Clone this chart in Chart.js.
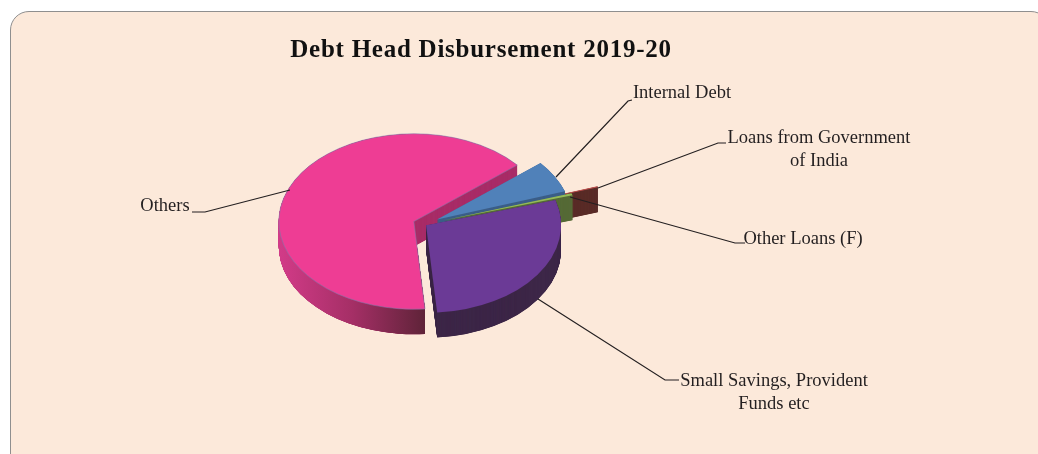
<!DOCTYPE html>
<html>
<head>
<meta charset="utf-8">
<title>Debt Head Disbursement 2019-20</title>
<script src="https://cdn.jsdelivr.net/npm/chart.js@4"></script>
<style>
  html, body { margin: 0; padding: 0; background: #fff; overflow: hidden; }
  #panel {
    position: absolute; left: 10px; top: 11px; width: 1040px; height: 470px;
    box-sizing: border-box; background: #fce9da; border: 1.5px solid #8f8f8f; border-radius: 19px;
  }
  #box { position: absolute; left: 0; top: 0; width: 962px; height: 454px; }
</style>
</head>
<body>
<div id="panel"></div>
<div id="box"><canvas id="debt"></canvas></div>
<script>
// values in percent
var categories = ['Internal Debt', 'Loans from Government of India', 'Other Loans (F)', 'Small Savings, Provident Funds etc', 'Others'];
var shares = [5.9, 0.2, 0.4, 28.3, 65.2];
var topColors = ['#5081b9', '#c0504d', '#94bb58', '#6b3a96', '#ee3d94'];
var wallColors = ['#3c5f88', '#5a2c28', '#566b37', '#3d2748', '#a92d68'];
var explode = [15, 48, 20, 2.5, 11];
var drawOrder = [4, 1, 0, 2, 3];

// label text lines, centre x, first baseline, then the leader line points
var labelLines = [
  { lines: ['Internal Debt'], x: 682, y: 98, leader: [[556, 177], [628, 101], [632, 100]] },
  { lines: ['Loans from Government', 'of India'], x: 819, y: 143, leader: [[598, 188], [718, 143], [726, 143]] },
  { lines: ['Other Loans (F)'], x: 803, y: 244, leader: [[570, 197], [735, 243], [745, 243]] },
  { lines: ['Small Savings, Provident', 'Funds etc'], x: 774, y: 386, leader: [[538, 299], [665, 380], [679, 380]] },
  { lines: ['Others'], x: 165, y: 211, leader: [[290, 190], [205, 212], [192, 212]] }
];

var squash = 0.65;
var depth = 25;
var pieShift = -57;
var textFont = '18.5px "Liberation Serif"';

function drawSlice(ctx, arc, i, fill, drop, rim) {
  var mid = (arc.startAngle + arc.endAngle) / 2;
  var e = explode[i];
  var s = Object.create(arc);
  s.options = Object.assign({}, arc.options, {
    offset: 0,
    backgroundColor: fill,
    borderColor: rim || fill,
    borderWidth: rim ? 1 : 0
  });
  ctx.save();
  ctx.translate(arc.x + pieShift + Math.cos(mid) * e, arc.y + Math.sin(mid) * e * squash + drop);
  ctx.scale(1, squash);
  ctx.translate(-arc.x, -arc.y);
  s.draw(ctx);
  ctx.restore();
}

var pie3d = {
  id: 'pie3d',
  beforeDraw: function (chart) {
    // title in the reference is set wider than the font
    chart.ctx.letterSpacing = '0.75px';
  },
  beforeDatasetDraw: function (chart) {
    var ctx = chart.ctx;
    var arcs = chart.getDatasetMeta(0).data;
    drawOrder.forEach(function (i) {
      var arc = arcs[i];
      var k;
      for (k = depth; k > 0; k -= 0.25) {
        drawSlice(ctx, arc, i, wallColors[i], k);
      }
      if (i === 4) {
        // outer wall of the big slice gets a dark shading to the right
        var mid = (arc.startAngle + arc.endAngle) / 2;
        var ax = arc.x + pieShift + Math.cos(mid) * explode[i];
        var ay = arc.y + Math.sin(mid) * explode[i] * squash;
        var grad = ctx.createLinearGradient(arc.x - arc.outerRadius, 0, arc.x + 12, 0);
        grad.addColorStop(0, '#d23b88');
        grad.addColorStop(0.5, '#a52f66');
        grad.addColorStop(1, '#5e2338');
        ctx.save();
        ctx.beginPath();
        ctx.rect(0, 0, ax, chart.height);
        ctx.rect(ax, ay + depth + 3, chart.width, chart.height);
        ctx.clip();
        for (k = depth; k > 0; k -= 0.25) {
          drawSlice(ctx, arc, i, grad, k);
        }
        ctx.restore();
      }
      drawSlice(ctx, arc, i, topColors[i], 0, i === 4 ? 'rgba(130,120,170,0.7)' : null);
    });
    return false;
  },
  afterDraw: function (chart) {
    var ctx = chart.ctx;
    ctx.save();
    ctx.letterSpacing = '0px';
    ctx.strokeStyle = '#231f20';
    ctx.lineWidth = 1.2;
    ctx.fillStyle = '#231f20';
    ctx.font = textFont;
    ctx.textAlign = 'center';
    labelLines.forEach(function (l) {
      ctx.beginPath();
      l.leader.forEach(function (p, n) {
        if (n === 0) ctx.moveTo(p[0], p[1]); else ctx.lineTo(p[0], p[1]);
      });
      ctx.stroke();
      l.lines.forEach(function (t, n) {
        ctx.fillText(t, l.x, l.y + n * 22.5);
      });
    });
    ctx.restore();
  }
};

new Chart(document.getElementById('debt'), {
  type: 'pie',
  data: {
    labels: categories,
    datasets: [{
      data: shares,
      backgroundColor: topColors,
      borderWidth: 0,
      radius: 135
    }]
  },
  options: {
    responsive: true,
    maintainAspectRatio: false,
    animation: false,
    rotation: 50,
    layout: { padding: { bottom: 71 } },
    plugins: {
      legend: { display: false },
      tooltip: { enabled: false },
      title: {
        display: true,
        text: 'Debt Head Disbursement 2019-20',
        color: '#111',
        font: { family: '"Liberation Serif"', size: 25, weight: 'bold' },
        padding: { top: 35.5, bottom: 0 }
      }
    }
  },
  plugins: [pie3d]
});
</script>
</body>
</html>
